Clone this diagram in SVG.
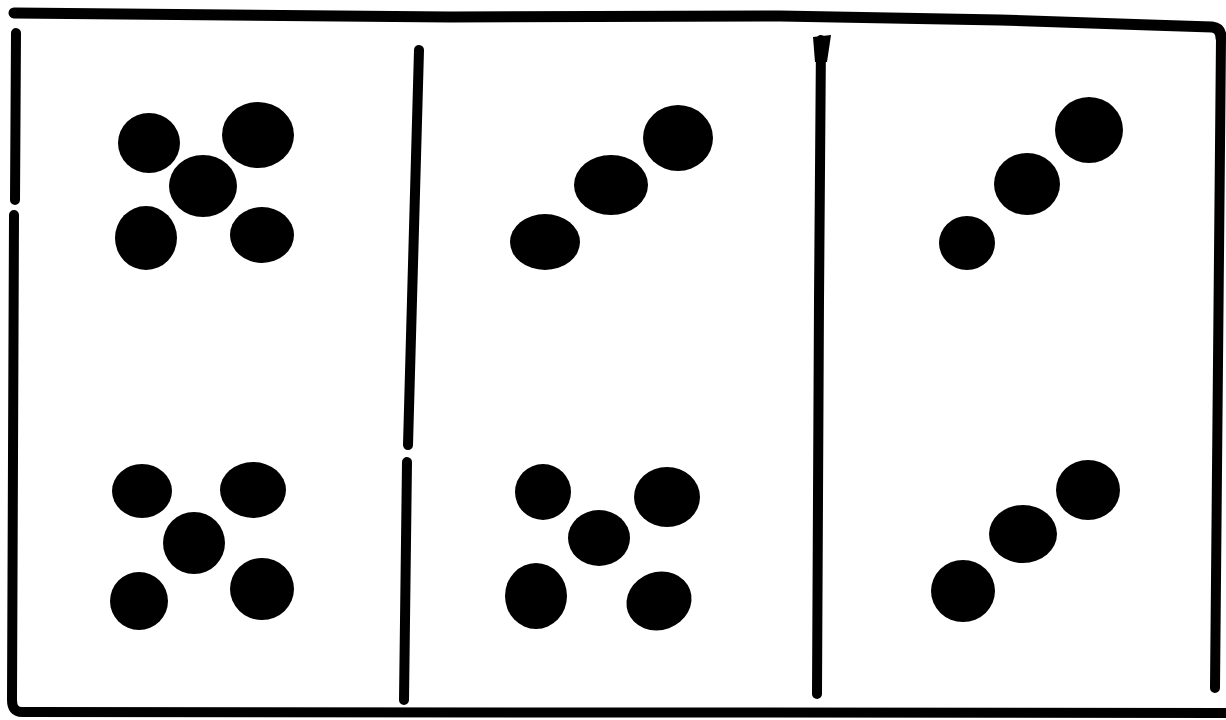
<svg xmlns="http://www.w3.org/2000/svg" width="1226" height="720" viewBox="0 0 1226 720">
  <style>
    .ln { fill: none; stroke: #000; stroke-width: 10; stroke-linecap: round; stroke-linejoin: round; }
    .top { stroke-width: 11; }
    .dot { fill: #000; }
  </style>
  <rect x="0" y="0" width="1226" height="720" fill="#fff"/>
  <g id="frame">
    <path class="ln top" d="M 14 13 L 230 15 L 450 17 L 780 16 L 1000 20 L 1150 25 L 1212 27 Q 1221 28 1221 38"/>
    <path class="ln" d="M 1221 38 L 1215 688"/>
    <path class="ln" d="M 16 33 L 15 200 M 14 215 L 12 700 Q 12 712 22 712 L 1226 713"/>
    <path class="ln" d="M 419 50 L 412 300 L 408 445 M 407 462 L 404 700"/>
    <path class="ln" d="M 821 40 L 819 300 L 817 694"/>
    <polygon points="813,37 831,35 827,62 815,62" fill="#000"/>
  </g>
  <g id="panel1">
    <ellipse class="dot" cx="149" cy="143" rx="31" ry="30"/>
    <ellipse class="dot" cx="258" cy="135" rx="36" ry="33"/>
    <ellipse class="dot" cx="203" cy="186" rx="34" ry="31"/>
    <ellipse class="dot" cx="146" cy="238" rx="31" ry="32"/>
    <ellipse class="dot" cx="262" cy="235" rx="32" ry="28"/>
    <ellipse class="dot" cx="142" cy="491" rx="30" ry="27"/>
    <ellipse class="dot" cx="253" cy="490" rx="33" ry="28"/>
    <ellipse class="dot" cx="194" cy="543" rx="31" ry="31"/>
    <ellipse class="dot" cx="139" cy="601" rx="29" ry="29"/>
    <ellipse class="dot" cx="262" cy="589" rx="32" ry="31"/>
  </g>
  <g id="panel2">
    <ellipse class="dot" cx="678" cy="138" rx="35" ry="33"/>
    <ellipse class="dot" cx="611" cy="185" rx="37" ry="30"/>
    <ellipse class="dot" cx="545" cy="242" rx="35" ry="28"/>
    <ellipse class="dot" cx="543" cy="492" rx="28" ry="28"/>
    <ellipse class="dot" cx="667" cy="497" rx="33" ry="30"/>
    <ellipse class="dot" cx="599" cy="538" rx="31" ry="28"/>
    <ellipse class="dot" cx="536" cy="596" rx="31" ry="33"/>
    <ellipse class="dot" cx="659" cy="601" rx="33" ry="29" transform="rotate(-20 659 601)"/>
  </g>
  <g id="panel3">
    <ellipse class="dot" cx="1089" cy="130" rx="34" ry="33"/>
    <ellipse class="dot" cx="1027" cy="184" rx="33" ry="31"/>
    <ellipse class="dot" cx="967" cy="243" rx="28" ry="27"/>
    <ellipse class="dot" cx="1088" cy="490" rx="32" ry="30"/>
    <ellipse class="dot" cx="1023" cy="534" rx="34" ry="29"/>
    <ellipse class="dot" cx="963" cy="591" rx="32" ry="31"/>
  </g>
</svg>
